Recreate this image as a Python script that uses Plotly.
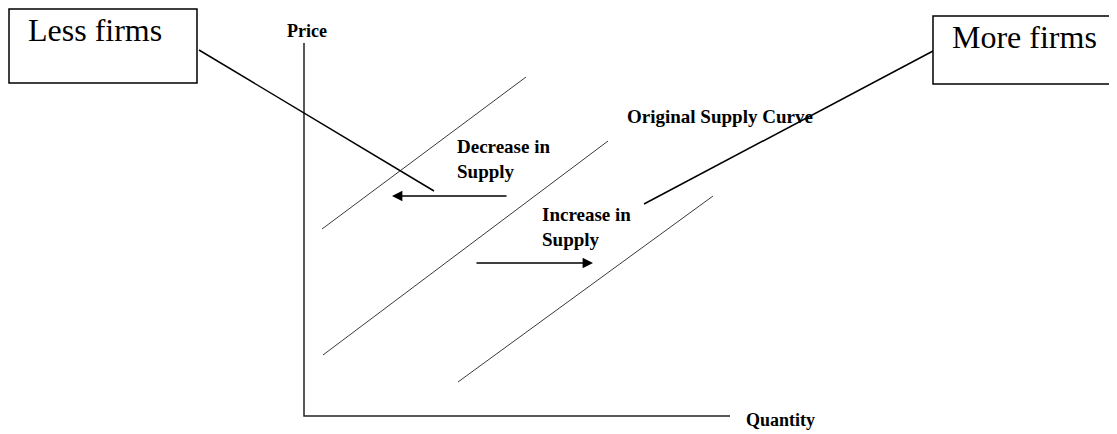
import plotly.graph_objects as go

# Diagram coordinates: quantity (x) and price (y), origin at the axes corner
axis_q = [0, 0, 426]
axis_p = [373, 0, 0]

supply_decrease_q = [18, 222]
supply_decrease_p = [187, 339]
supply_original_q = [19, 304]
supply_original_p = [61, 275]
supply_increase_q = [154, 409]
supply_increase_p = [34, 220]

# shift arrows: (tail, tip)
decrease_arrow_q = [204, 88]
decrease_arrow_p = [220, 220]
increase_arrow_q = [171, 289]
increase_arrow_p = [153, 153]

# callout boxes and leader lines
less_box_q = [-295, -107]
less_box_p = [333, 407]
less_leader_q = [-105, 130]
less_leader_p = [366, 225]
more_box_q = [629, 830]
more_box_p = [332, 400]
more_leader_q = [629, 340]
more_leader_p = [365, 212]

labels = {
    "Less firms": (-278, 386),
    "More firms": (646, 379),
    "Price": (-19, 385),
    "Original Supply Curve": (321, 300),
    "Decrease in<br>Supply": (151, 257),
    "Increase in<br>Supply": (236, 189),
    "Quantity": (440, -4),
}

# the page body has an 8px margin, so the figure is placed at (8, 8)
X_RANGE = [-296, 813]
Y_RANGE = [-18, 408]

fig = go.Figure()

line_thin = dict(color="#3a3a3a", width=1)
for q, p in [(supply_decrease_q, supply_decrease_p),
             (supply_original_q, supply_original_p),
             (supply_increase_q, supply_increase_p)]:
    fig.add_trace(go.Scatter(x=q, y=p, mode="lines", line=line_thin,
                             hoverinfo="skip", showlegend=False))

fig.add_trace(go.Scatter(x=axis_q, y=axis_p, mode="lines",
                         line=dict(color="#222222", width=1.5),
                         hoverinfo="skip", showlegend=False))

for q, p in [(less_leader_q, less_leader_p), (more_leader_q, more_leader_p)]:
    fig.add_trace(go.Scatter(x=q, y=p, mode="lines",
                             line=dict(color="black", width=1.5),
                             hoverinfo="skip", showlegend=False))

for bq, bp in [(less_box_q, less_box_p), (more_box_q, more_box_p)]:
    fig.add_shape(type="rect", xref="x", yref="y",
                  x0=bq[0], x1=bq[1], y0=bp[0], y1=bp[1],
                  line=dict(color="black", width=1.5), fillcolor="white",
                  layer="above")

for q, p in [(decrease_arrow_q, decrease_arrow_p), (increase_arrow_q, increase_arrow_p)]:
    fig.add_annotation(x=q[1], y=p[1], ax=q[0], ay=p[0], xref="x", yref="y",
                       axref="x", ayref="y", text="", showarrow=True,
                       arrowhead=2, arrowsize=1.6, arrowwidth=1.3, arrowcolor="black")

for txt, (qx, py) in labels.items():
    big = txt in ("Less firms", "More firms")
    fig.add_annotation(
        x=qx, y=py, xref="x", yref="y", text=txt if big else f"<b>{txt}</b>",
        showarrow=False, xanchor="left", yanchor="middle", align="left",
        font=dict(family="Liberation Serif", size=32 if big else (18 if txt in ("Price", "Quantity") else 19),
                  color="black"),
    )

fig.update_xaxes(range=X_RANGE, visible=False, showgrid=False, zeroline=False, fixedrange=True)
fig.update_yaxes(range=Y_RANGE, visible=False, showgrid=False, zeroline=False, fixedrange=True)
fig.update_layout(width=1109, height=426, margin=dict(l=0, r=0, t=0, b=0),
                  paper_bgcolor="white", plot_bgcolor="white", showlegend=False)

fig.write_html("out.html")
